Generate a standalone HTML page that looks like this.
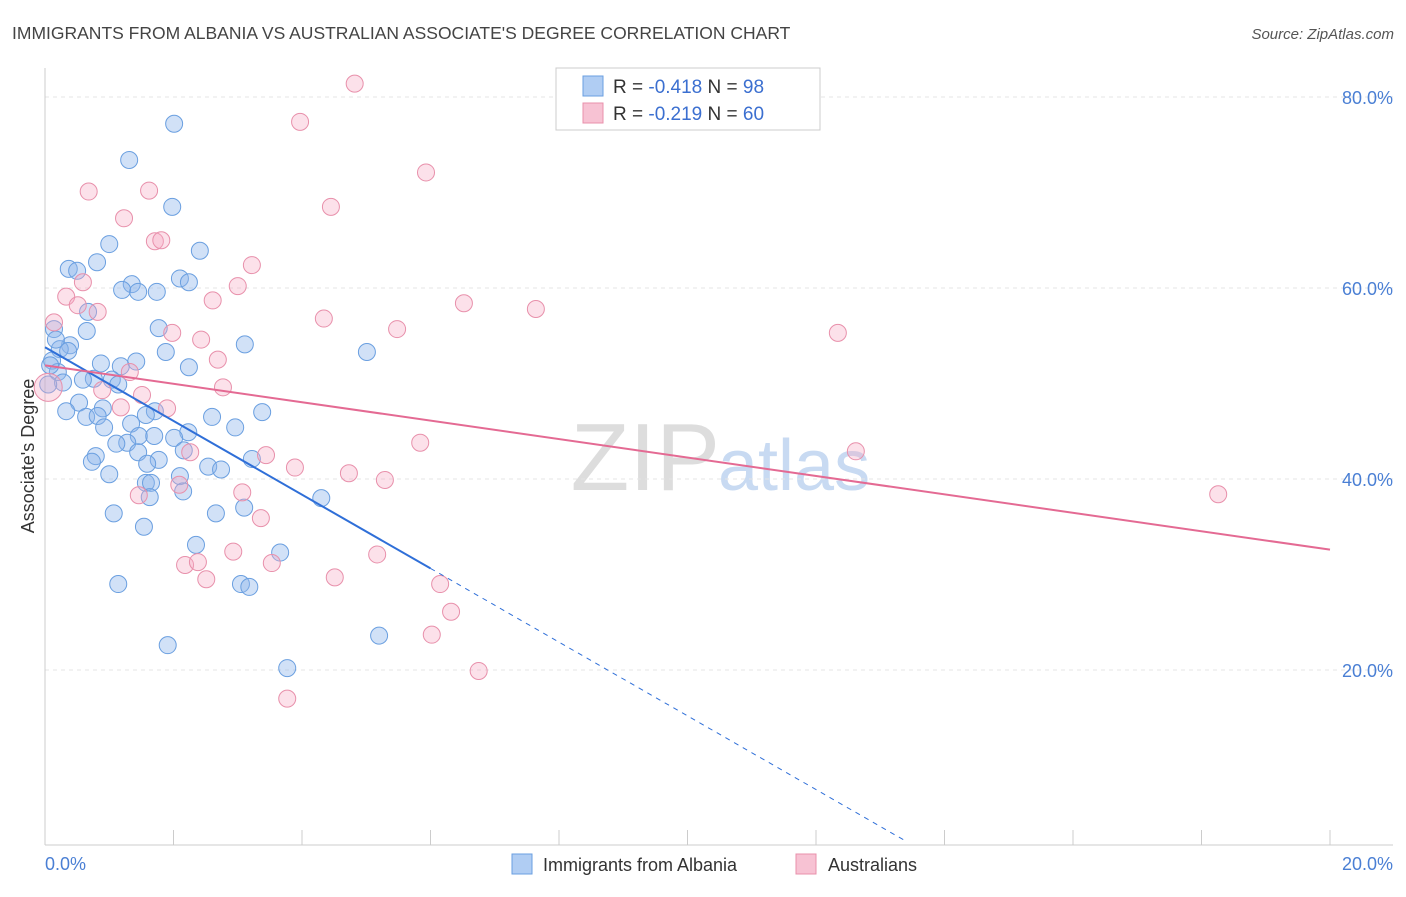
<!DOCTYPE html>
<html><head><meta charset="utf-8"><style>
body{margin:0;background:#fff;font-family:"Liberation Sans",sans-serif}
svg text{font-family:"Liberation Sans",sans-serif}
</style></head><body>
<svg width="1406" height="892" xmlns="http://www.w3.org/2000/svg">
<text x="12" y="39" font-size="17.5" fill="#444">IMMIGRANTS FROM ALBANIA VS AUSTRALIAN ASSOCIATE'S DEGREE CORRELATION CHART</text>
<text x="1394" y="39" font-size="15" fill="#555" font-style="italic" text-anchor="end">Source: ZipAtlas.com</text>
<text x="720" y="490" font-size="96" fill="#ddd" text-anchor="end" font-family="Liberation Serif">ZIP</text>
<text x="718" y="490" font-size="72" fill="#c8daf2">atlas</text>
<g id="grid"></g><g id="axes"></g>
<text transform="translate(34,456) rotate(-90)" font-size="18" fill="#333" text-anchor="middle">Associate's Degree</text>
<g id="marks"></g>
<g>
<rect x="556" y="68" width="264" height="62" fill="#fff" stroke="#ccc"/>
<rect x="583" y="76" width="20" height="20" fill="#b0cdf3" stroke="#6a9fe0"/>
<rect x="583" y="103" width="20" height="20" fill="#f7c2d3" stroke="#e890ab"/>
<text x="613" y="93" font-size="19" fill="#333">R = <tspan fill="#3b6fd0">-0.418</tspan>   N = <tspan fill="#3b6fd0">98</tspan></text>
<text x="613" y="120" font-size="19" fill="#333">R = <tspan fill="#3b6fd0">-0.219</tspan>   N = <tspan fill="#3b6fd0">60</tspan></text>
</g>
<text x="45" y="870" font-size="18" fill="#4a7fd4">0.0%</text>
<text x="1393" y="870" font-size="18" fill="#4a7fd4" text-anchor="end">20.0%</text>
<g>
<rect x="512" y="854" width="20" height="20" fill="#b0cdf3" stroke="#6a9fe0"/>
<text x="543" y="871" font-size="18" fill="#333">Immigrants from Albania</text>
<rect x="796" y="854" width="20" height="20" fill="#f7c2d3" stroke="#e890ab"/>
<text x="828" y="871" font-size="18" fill="#333">Australians</text>
</g>
</svg>
<script>
const blueX=[2.01,1.31,1.98,1.00,2.41,0.81,0.37,0.50,2.10,2.24,1.35,1.20,1.45,1.74,0.67,0.14,0.65,1.77,3.11,5.01,1.88,0.39,0.23,0.36,0.11,0.87,1.18,1.42,2.24,0.20,0.76,1.04,0.59,0.28,1.14,0.53,0.90,1.71,3.38,2.60,0.33,0.64,0.82,1.57,1.34,0.92,2.96,2.23,1.46,1.70,2.01,1.28,1.11,2.16,1.45,0.79,0.73,1.77,1.59,3.22,2.54,2.74,1.00,2.10,1.57,1.65,2.15,1.63,4.30,1.07,2.66,3.10,1.54,2.35,3.66,1.14,3.05,3.18,5.20,1.91,3.77,0.08,0.05,0.17];
const blueY=[77.2,73.4,68.5,64.6,63.9,62.7,62.0,61.8,61.0,60.6,60.4,59.8,59.6,59.6,57.5,55.7,55.5,55.8,54.1,53.3,53.3,54.0,53.6,53.4,52.4,52.1,51.8,52.3,51.7,51.2,50.5,50.4,50.4,50.1,49.9,48.0,47.4,47.1,47.0,46.5,47.1,46.5,46.6,46.7,45.8,45.4,45.4,44.9,44.5,44.5,44.3,43.8,43.7,43.0,42.8,42.4,41.8,42.0,41.6,42.1,41.3,41.0,40.5,40.3,39.6,39.6,38.7,38.1,38.0,36.4,36.4,37.0,35.0,33.1,32.3,29.0,29.0,28.7,23.6,22.6,20.2,51.9,49.9,54.6];
const pinkX=[4.82,3.97,5.93,0.68,1.62,4.45,1.23,1.71,1.81,3.22,3.00,0.33,0.59,0.51,2.61,6.52,7.64,4.34,0.82,0.14,1.98,2.43,5.48,12.34,2.69,1.32,2.77,1.51,1.90,1.18,0.89,5.84,12.62,2.26,3.44,3.89,4.73,5.29,2.09,1.46,3.07,18.26,3.36,2.93,5.17,2.18,2.38,3.53,2.51,4.51,6.15,6.32,6.02,6.75,3.77];
const pinkY=[81.4,77.4,72.1,70.1,70.2,68.5,67.3,64.9,65.0,62.4,60.2,59.1,60.6,58.2,58.7,58.4,57.8,56.8,57.5,56.4,55.3,54.6,55.7,55.3,52.5,51.2,49.6,48.8,47.4,47.5,49.3,43.8,42.9,42.8,42.5,41.2,40.6,39.9,39.4,38.3,38.6,38.4,35.9,32.4,32.1,31.0,31.3,31.2,29.5,29.7,29.0,26.1,23.7,19.9,17.0];
const yTicks=[20,40,60,80];
const blueTrend=[53.8,-3.86];
const pinkTrend=[51.9,-0.965];
const NS="http://www.w3.org/2000/svg";
const sx=v=>45+v*64.25, sy=v=>861-v*9.55;
function mk(t,a,p){const e=document.createElementNS(NS,t);for(const k in a)e.setAttribute(k,a[k]);p.appendChild(e);return e;}
const grid=document.getElementById('grid'),axes=document.getElementById('axes'),marks=document.getElementById('marks');
yTicks.forEach(t=>{
 const l=mk('line',{x1:45,x2:1393,y1:sy(t),y2:sy(t),stroke:'#e4e4e4','stroke-dasharray':'4,4'},grid);
 
 
 const tx=mk('text',{x:1393,y:sy(t)+7,'font-size':18,fill:'#4a7fd4','text-anchor':'end'},grid);
 tx.textContent=t.toFixed(1)+'%';
 
 
});
mk('line',{x1:45,x2:45,y1:68,y2:845,stroke:'#ccc'},axes);
mk('line',{x1:45,x2:1393,y1:845,y2:845,stroke:'#ccc'},axes);
for(let i=1;i<=10;i++){const l=mk('line',{x1:45+i*128.5,x2:45+i*128.5,y1:830,y2:845,stroke:'#ccc'},axes);
 
 }
blueX.forEach((x,i)=>{const c=mk('circle',{cx:sx(x),cy:sy(blueY[i]),r:8.5,fill:'rgba(140,180,235,0.4)',stroke:'#6a9fe0','stroke-width':1},marks);
 
 });
pinkX.forEach((x,i)=>{const c=mk('circle',{cx:sx(x),cy:sy(pinkY[i]),r:8.5,fill:'rgba(245,170,195,0.35)',stroke:'#e890ab','stroke-width':1},marks);
 
 });
const bigP=mk('circle',{cx:sx(0.05),cy:sy(49.6),r:14,fill:'rgba(245,170,195,0.35)',stroke:'#e890ab'},marks);


const bl=mk('line',{x1:sx(0),y1:sy(blueTrend[0]),x2:sx(6),y2:sy(blueTrend[0]+6*blueTrend[1]),stroke:'#2f6fd8','stroke-width':2},marks);


const bd=mk('line',{x1:sx(6),y1:sy(blueTrend[0]+6*blueTrend[1]),x2:sx(13.4),y2:sy(blueTrend[0]+13.4*blueTrend[1]),stroke:'#2f6fd8','stroke-width':1,'stroke-dasharray':'5,5'},marks);


const pl=mk('line',{x1:sx(0),y1:sy(pinkTrend[0]),x2:sx(20),y2:sy(pinkTrend[0]+20*pinkTrend[1]),stroke:'#e46a93','stroke-width':2},marks);


</script>
</body></html>
